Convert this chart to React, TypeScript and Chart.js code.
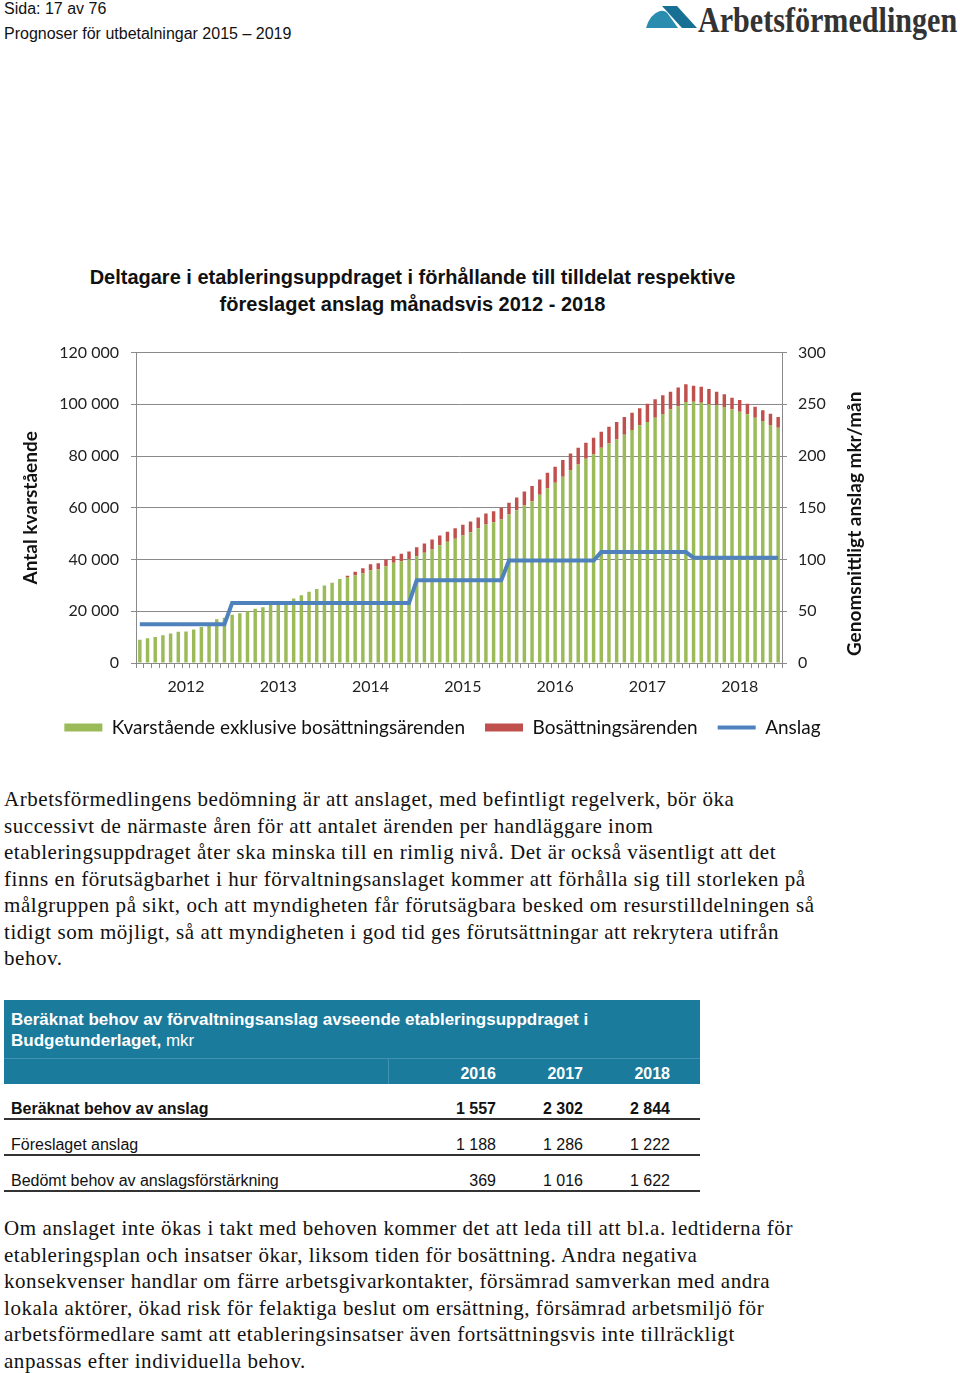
import React, { useEffect, useRef } from 'react';
import { Chart, registerables } from 'chart.js';

Chart.register(...registerables);

// ---------- data ----------
const years = ['2012', '2013', '2014', '2015', '2016', '2017', '2018'];
const monthNames = ['jan', 'feb', 'mar', 'apr', 'maj', 'jun', 'jul', 'aug', 'sep', 'okt', 'nov', 'dec'];

const kvarstaende = [
  9000, 9540, 10070, 10730, 11390, 12050, 12190, 12980, 13910, 14830, 16950, 17500,
  18680, 19200, 20000, 20930, 21590, 22650, 23180, 23300, 24900, 26230, 27550, 28610,
  29930, 30990, 32450, 33290, 33810, 34580, 35870, 36130, 37420, 38710, 39350, 40000,
  41290, 42580, 43870, 45550, 46840, 48000, 49290, 50580, 52130, 53550, 54450, 55480,
  57420, 59100, 61030, 62580, 65030, 67480, 69680, 72000, 74580, 76770, 78970, 80650,
  83230, 84900, 86450, 88260, 90070, 91870, 93160, 94840, 96260, 98060, 99230, 100900,
  101030, 100650, 100000, 99740, 98970, 98060, 97160, 96130, 94840, 93550, 92000, 90970,
];

const bosattning = [
  0, 0, 0, 0, 0, 0, 0, 0, 0, 0, 0, 0,
  0, 0, 0, 0, 0, 0, 0, 0, 0, 0, 0, 0,
  0, 0, 0, 400, 1420, 2060, 2320, 2450, 2580, 2580, 2840, 3100,
  3480, 3610, 3870, 3740, 3870, 4130, 4130, 4130, 4130, 4260, 4260, 4520,
  4520, 4900, 5290, 5810, 5940, 6060, 6190, 6450, 6450, 6450, 6190, 6450,
  6190, 6450, 6710, 6840, 6710, 6580, 7100, 7100, 7230, 6840, 7230, 6840,
  6190, 6190, 5940, 5160, 4900, 4520, 4520, 4130, 4260, 4130, 4390, 4130,
];

const anslag = [
  37.5, 37.5, 37.5, 37.5, 37.5, 37.5, 37.5, 37.5, 37.5, 37.5, 37.5, 37.5,
  58, 58, 58, 58, 58, 58, 58, 58, 58, 58, 58, 58,
  58, 58, 58, 58, 58, 58, 58, 58, 58, 58, 58, 58,
  80, 80, 80, 80, 80, 80, 80, 80, 80, 80, 80, 80,
  99, 99, 99, 99, 99, 99, 99, 99, 99, 99, 99, 99,
  107.2, 107.2, 107.2, 107.2, 107.2, 107.2, 107.2, 107.2, 107.2, 107.2, 107.2, 107.2,
  101.8, 101.8, 101.8, 101.8, 101.8, 101.8, 101.8, 101.8, 101.8, 101.8, 101.8, 101.8,
];

const categories = years.flatMap((y) => monthNames.map((m) => `${m} ${y}`));

const chartTitle = [
  'Deltagare i etableringsuppdraget i förhållande till tilldelat respektive',
  'föreslaget anslag månadsvis 2012 - 2018',
];
const leftAxisTitle = 'Antal kvarstående';
const rightAxisTitle = 'Genomsnittligt anslag mkr/mån';

const tableYears = ['2016', '2017', '2018'];
const tableRowLabels = ['Beräknat behov av anslag', 'Föreslaget anslag', 'Bedömt behov av anslagsförstärkning'];
const tableRowValues = [
  ['1 557', '2 302', '2 844'],
  ['1 188', '1 286', '1 222'],
  ['369', '1 016', '1 622'],
];

const para1 = [
  'Arbetsförmedlingens bedömning är att anslaget, med befintligt regelverk, bör öka',
  'successivt de närmaste åren för att antalet ärenden per handläggare inom',
  'etableringsuppdraget åter ska minska till en rimlig nivå. Det är också väsentligt att det',
  'finns en förutsägbarhet i hur förvaltningsanslaget kommer att förhålla sig till storleken på',
  'målgruppen på sikt, och att myndigheten får förutsägbara besked om resurstilldelningen så',
  'tidigt som möjligt, så att myndigheten i god tid ges förutsättningar att rekrytera utifrån',
  'behov.',
];
const para2 = [
  'Om anslaget inte ökas i takt med behoven kommer det att leda till att bl.a. ledtiderna för',
  'etableringsplan och insatser ökar, liksom tiden för bosättning. Andra negativa',
  'konsekvenser handlar om färre arbetsgivarkontakter, försämrad samverkan med andra',
  'lokala aktörer, ökad risk för felaktiga beslut om ersättning, försämrad arbetsmiljö för',
  'arbetsförmedlare samt att etableringsinsatser även fortsättningsvis inte tillräckligt',
  'anpassas efter individuella behov.',
];

// ---------- helpers ----------
const fmtThousands = (v: number) => String(v).replace(/\B(?=(\d{3})+(?!\d))/g, ' ');
const SANS = "'Liberation Sans', Arial, sans-serif";
const SERIF = "'Liberation Serif', 'Times New Roman', serif";
const LATO = 'Lato';

// right axis title reading bottom-to-top, as in the original
const rightTitlePlugin = {
  id: 'rightTitle',
  afterDraw(chart: any) {
    const { ctx, chartArea } = chart;
    const sc = chart.scales.y1;
    ctx.save();
    ctx.translate(sc.right - 15, (chartArea.top + chartArea.bottom) / 2 + 16);
    ctx.rotate(-Math.PI / 2);
    ctx.font = `bold 19px ${LATO}`;
    ctx.fillStyle = '#111';
    ctx.textAlign = 'center';
    ctx.textBaseline = 'middle';
    ctx.fillText(rightAxisTitle, 0, 0);
    ctx.restore();
  },
};

function ChartBox() {
  const ref = useRef<HTMLCanvasElement | null>(null);
  useEffect(() => {
    if (!ref.current) return;
    const tickFont = { family: LATO, size: 16 };
    const chart = new Chart(ref.current, {
      type: 'bar',
      data: {
        labels: categories,
        datasets: [
          {
            type: 'bar',
            label: 'Kvarstående exklusive bosättningsärenden',
            data: kvarstaende,
            backgroundColor: '#9BBB59',
            borderWidth: 0,
            stack: 's',
            yAxisID: 'y',
            barPercentage: 0.45,
            categoryPercentage: 1,
            order: 2,
            pointStyle: 'rect',
          } as any,
          {
            type: 'bar',
            label: 'Bosättningsärenden',
            data: bosattning,
            backgroundColor: '#C0504D',
            borderWidth: 0,
            stack: 's',
            yAxisID: 'y',
            barPercentage: 0.45,
            categoryPercentage: 1,
            order: 2,
            pointStyle: 'rect',
          } as any,
          {
            type: 'line',
            label: 'Anslag',
            data: anslag,
            borderColor: '#4F81BD',
            backgroundColor: '#4F81BD',
            borderWidth: 4,
            pointRadius: 0,
            tension: 0,
            yAxisID: 'y1',
            order: 0,
            pointStyle: 'line',
          } as any,
        ],
      },
      options: {
        animation: false,
        responsive: false,
        maintainAspectRatio: false,
        layout: { padding: { left: 5, right: 10, top: 3, bottom: 0 } },
        plugins: {
          title: { display: false },
          tooltip: { enabled: false },
          legend: {
            position: 'bottom',
            labels: {
              usePointStyle: true,
              pointStyleWidth: 38,
              boxHeight: 8,
              padding: 20,
              color: '#111',
              font: { family: LATO, size: 19 },
              sort: (a: any, b: any) => a.datasetIndex - b.datasetIndex,
            },
          },
        },
        scales: {
          x: {
            stacked: true,
            offset: true,
            grid: { drawOnChartArea: false, drawTicks: true, tickLength: 5, color: '#8a8a8a', offset: true },
            border: { color: '#8a8a8a' },
            ticks: {
              autoSkip: false,
              maxRotation: 0,
              minRotation: 0,
              padding: 9,
              color: '#222',
              font: tickFont,
              callback: (_v: any, i: number) => (i % 12 === 6 ? years[Math.floor(i / 12)] : ''),
            },
            afterFit: (a: any) => {
              a.height = 35;
            },
          },
          y: {
            stacked: true,
            min: 0,
            max: 120000,
            position: 'left',
            ticks: {
              stepSize: 20000,
              padding: 12,
              color: '#222',
              font: tickFont,
              callback: (v: any) => fmtThousands(Number(v)),
            },
            grid: { color: '#8a8a8a', tickLength: 5 },
            border: { color: '#8a8a8a' },
            title: {
              display: true,
              text: leftAxisTitle,
              color: '#111',
              font: { family: LATO, size: 19, weight: 'bold' },
            },
            afterFit: (a: any) => {
              a.width = 121;
            },
          },
          y1: {
            min: 0,
            max: 300,
            position: 'right',
            ticks: { stepSize: 50, padding: 11, color: '#222', font: tickFont },
            grid: { drawOnChartArea: false, color: '#8a8a8a', tickLength: 5 },
            border: { color: '#8a8a8a' },
            title: { display: false },
            afterFit: (a: any) => {
              a.width = 88;
            },
          },
        },
      } as any,
      plugins: [rightTitlePlugin],
    });
    return () => chart.destroy();
  }, []);
  return (
    <canvas
      ref={ref}
      width={870}
      height={416}
      style={{ position: 'absolute', left: 10, top: 331, width: 870, height: 416 }}
    />
  );
}

const abs = (left: number, top: number, extra: React.CSSProperties = {}): React.CSSProperties => ({
  position: 'absolute',
  left,
  top,
  whiteSpace: 'nowrap',
  ...extra,
});

const bodyText: React.CSSProperties = {
  fontFamily: SERIF,
  fontSize: 21,
  lineHeight: '26.5px',
  letterSpacing: '0.55px',
  color: '#111',
};

export default function App() {
  const tealHead = '#1b7b9c';
  const colRight = [496, 583, 670];
  const rowCenters = [1108, 1144, 1180];
  return (
    <div
      style={{
        position: 'absolute',
        left: 0,
        top: 0,
        width: 960,
        height: 1373,
        background: '#fff',
        overflow: 'hidden',
        color: '#000',
      }}
    >
      {/* page header */}
      <div style={abs(4, 0, { fontFamily: SANS, fontSize: 16, lineHeight: '18px', color: '#111' })}>Sida: 17 av 76</div>
      <div style={abs(4, 25, { fontFamily: SANS, fontSize: 16, lineHeight: '18px', color: '#111' })}>
        Prognoser för utbetalningar 2015 – 2019
      </div>
      <svg style={{ position: 'absolute', left: 640, top: 1 }} width={62} height={34} viewBox="0 0 62 34">
        <path d="M6,27 Q10,13 20,10 Q25,9 28,13 L38,27 Z" fill="#2a8db0" />
        <path d="M22,5 L37,5 L57,27 L42,27 Z" fill="#176f93" />
      </svg>
      <div
        style={abs(698, -1, {
          fontFamily: SERIF,
          fontWeight: 'bold',
          fontSize: 35,
          lineHeight: '44px',
          color: '#333',
          transform: 'scaleX(0.86)',
          transformOrigin: 'left top',
        })}
      >
        Arbetsförmedlingen
      </div>

      {/* chart title */}
      <div
        style={{
          position: 'absolute',
          left: 0,
          top: 264,
          width: 825,
          textAlign: 'center',
          fontFamily: SANS,
          fontWeight: 'bold',
          fontSize: 20,
          lineHeight: '27px',
          color: '#111',
        }}
      >
        {chartTitle.map((t, i) => (
          <div key={i}>{t}</div>
        ))}
      </div>

      <ChartBox />

      {/* paragraph 1 */}
      <div style={abs(4, 786, bodyText)}>
        {para1.map((t, i) => (
          <div key={i}>{t}</div>
        ))}
      </div>

      {/* table */}
      <div style={{ position: 'absolute', left: 4, top: 1000, width: 696, height: 84, background: tealHead }} />
      <div style={{ position: 'absolute', left: 4, top: 1058, width: 696, height: 1, background: '#3f93b0' }} />
      <div style={{ position: 'absolute', left: 388, top: 1058, width: 1, height: 26, background: '#3f93b0' }} />
      <div
        style={abs(11, 1009, {
          fontFamily: SANS,
          fontSize: 17,
          lineHeight: '21px',
          color: '#fff',
          fontWeight: 'bold',
        })}
      >
        <div>Beräknat behov av förvaltningsanslag avseende etableringsuppdraget i</div>
        <div>
          Budgetunderlaget,<span style={{ fontWeight: 'normal' }}> mkr</span>
        </div>
      </div>
      {tableYears.map((y, i) => (
        <div
          key={y}
          style={abs(colRight[i] - 60, 1064, {
            width: 60,
            textAlign: 'right',
            fontFamily: SANS,
            fontSize: 16,
            lineHeight: '20px',
            color: '#fff',
            fontWeight: 'bold',
          })}
        >
          {y}
        </div>
      ))}
      {tableRowLabels.map((lab, r) => (
        <React.Fragment key={lab}>
          <div
            style={abs(11, rowCenters[r] - 9, {
              fontFamily: SANS,
              fontSize: 16,
              lineHeight: '20px',
              fontWeight: r === 0 ? 'bold' : 'normal',
              color: '#111',
            })}
          >
            {lab}
          </div>
          {tableRowValues[r].map((v, c) => (
            <div
              key={c}
              style={abs(colRight[c] - 60, rowCenters[r] - 9, {
                width: 60,
                textAlign: 'right',
                fontFamily: SANS,
                fontSize: 16,
                lineHeight: '20px',
                fontWeight: r === 0 ? 'bold' : 'normal',
                color: '#111',
              })}
            >
              {v}
            </div>
          ))}
          <div
            style={{ position: 'absolute', left: 4, top: rowCenters[r] + 10, width: 696, height: 1.5, background: '#333' }}
          />
        </React.Fragment>
      ))}

      {/* paragraph 2 */}
      <div style={abs(4, 1215, bodyText)}>
        {para2.map((t, i) => (
          <div key={i}>{t}</div>
        ))}
      </div>
    </div>
  );
}
